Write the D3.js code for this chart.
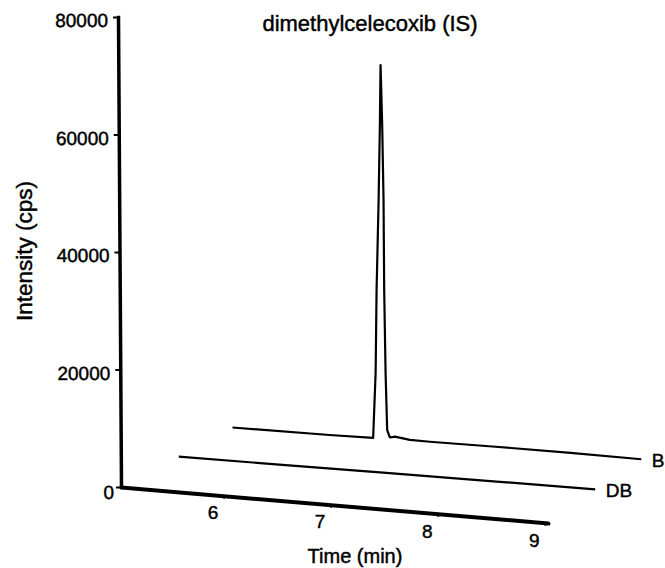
<!DOCTYPE html>
<html>
<head>
<meta charset="utf-8">
<script src="https://cdn.jsdelivr.net/npm/d3@7"></script>
<style>
  html, body { margin: 0; padding: 0; background: #fff; }
  svg { display: block; font-family: "Liberation Sans", Arial, sans-serif; }
  svg text { fill: #000; stroke: #000; stroke-width: 0.45px; }
</style>
</head>
<body>
<svg id="chart" width="665" height="568"></svg>
<script>
// ---- data ----
const intensityTicks = [0, 20000, 40000, 60000, 80000];
const timeTicks = [6, 7, 8, 9];
const timeDomain = [5.044, 9.03];
const intensityDomain = [0, 80000];

const seriesNames = ["DB", "B"];
const seriesDepth = [1, 2];

// DB (drug-free blank): flat baseline
const dbTime = [5.063, 6.0, 7.0, 8.0, 8.95];
const dbIntensity = [120, 230, 340, 450, 550];

// B (blank + internal standard): dimethylcelecoxib peak
const bTime = [5.044, 5.95, 6.357, 6.380, 6.389, 6.408, 6.420, 6.426, 6.441, 6.454,
               6.460, 6.473, 6.488, 6.513, 6.560, 6.700, 6.886, 7.5, 8.2, 8.86];
const bIntensity = [0, 120, 260, 11330, 25470, 40820, 53950, 63830, 53980, 40890,
                    25580, 11470, 1790, 560, 770, 430, 410, 500, 520, 460];

const traces = [
  { name: seriesNames[0], depth: seriesDepth[0], t: dbTime, v: dbIntensity },
  { name: seriesNames[1], depth: seriesDepth[1], t: bTime, v: bIntensity }
];

// ---- layout ----
const ox = 121, oy = 487;           // corner of the two axes
const slope = 0.0843;               // fall of the time axis per pixel
const skewDeg = Math.atan(slope) * 180 / Math.PI;
const yTilt = Math.atan(3 / 470) * 180 / Math.PI;

const svg = d3.select("#chart");

const xs = d3.scaleLinear().domain(timeDomain).range([0, 427]);
const ys = d3.scaleLinear().domain(intensityDomain).range([oy, 17]);
const depthX = d3.scaleLinear().domain([0, 2]).range([0, 111.5]);
const depthY = d3.scaleLinear().domain([0, 2]).range([0, -59.5]);

// oblique projection: time runs along the slanted axis, series stacked in depth
const px = (t, d) => ox + xs(t) + depthX(d);
const py = (t, v, d) => ys(v) + xs(t) * slope + depthY(d);

// ---- traces ----
const line = d3.line()
  .x(p => px(p.t, p.d))
  .y(p => py(p.t, p.v, p.d));

traces.forEach(tr => {
  const pts = tr.t.map((t, i) => ({ t, v: tr.v[i], d: tr.depth }));
  svg.append("path")
    .attr("d", line(pts))
    .attr("fill", "none")
    .attr("stroke", "#000")
    .attr("stroke-width", 2.2)
    .attr("stroke-linejoin", "round");
  const last = pts[pts.length - 1];
  svg.append("text")
    .attr("x", px(last.t, last.d) + 10.5)
    .attr("y", py(last.t, last.v, last.d) + 1.5)
    .attr("dy", "0.35em")
    .attr("font-size", 19)
    .text(tr.name);
});

// ---- y axis ----
const gy = svg.append("g")
  .attr("transform", `translate(${ox},${oy}) skewX(${yTilt}) translate(0,${-oy})`)
  .call(d3.axisLeft(ys).tickValues(intensityTicks).tickFormat(d3.format("d"))
    .tickSize(5).tickSizeOuter(0).tickPadding(5));
gy.select(".domain").attr("stroke-width", 3.5).attr("stroke-linecap", "square");
gy.selectAll(".tick line").attr("stroke-width", 2);
gy.selectAll(".tick text")
  .attr("font-size", 19).attr("font-family", null)
  .attr("transform", d => d === 0 ? "translate(3,5.5)" : "translate(0,3.5)");

// ---- x axis (slanted) ----
const gx = svg.append("g")
  .attr("transform", `translate(${ox},${oy}) skewY(${skewDeg})`)
  .call(d3.axisBottom(xs).tickValues(timeTicks).tickFormat(d3.format("d"))
    .tickSize(3).tickSizeOuter(0));
gx.select(".domain").attr("stroke-width", 4).attr("stroke-linecap", "round");
gx.selectAll(".tick line").attr("stroke-width", 2);
gx.selectAll(".tick text")
  .attr("font-size", 19).attr("font-family", null)
  .attr("transform", `skewY(${-skewDeg})`)
  .attr("x", -11).attr("y", 10.3).attr("dy", "0.71em");

// ---- titles ----
svg.append("text")
  .attr("x", 370).attr("y", 30.7)
  .attr("text-anchor", "middle")
  .attr("font-size", 22)
  .text("dimethylcelecoxib (IS)");

svg.append("text")
  .attr("transform", "translate(32,251) rotate(-90)")
  .attr("text-anchor", "middle")
  .attr("font-size", 22.5)
  .text("Intensity (cps)");

svg.append("text")
  .attr("x", 355).attr("y", 563)
  .attr("text-anchor", "middle")
  .attr("font-size", 20)
  .text("Time (min)");
</script>
</body>
</html>
